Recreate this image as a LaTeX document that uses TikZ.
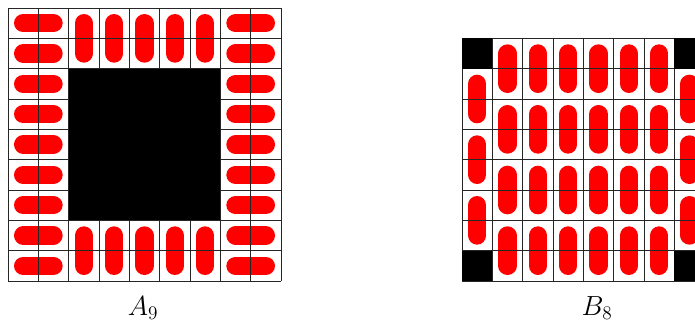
\documentclass[tikz,border=0pt]{standalone}
\usetikzlibrary{calc}
\begin{document}
\begin{tikzpicture}[x=0.75pt,y=-0.75pt,
  domino/.style={draw=red,line width=13.75pt,line cap=round},
  gridline/.style={draw=black!85,line width=0.65pt},
  hole/.style={fill=black},
  lbl/.style={font=\fontsize{20.5}{24}\selectfont,anchor=base,inner sep=0pt}]
\useasboundingbox (0,0) rectangle (695,322);
\clip (0,0) rectangle (695,322);
% ---------- A_9 ----------
\begin{scope}[shift={(8,8)},x=22.75pt,y=-22.75pt]
  \foreach \r in {0,...,8}{
    \draw[domino] (0.5,\r+0.5) -- (1.5,\r+0.5);
    \draw[domino] (7.5,\r+0.5) -- (8.5,\r+0.5);
  }
  \foreach \c in {2,...,6}{
    \draw[domino] (\c+0.5,0.5) -- (\c+0.5,1.5);
    \draw[domino] (\c+0.5,7.5) -- (\c+0.5,8.5);
  }
  \foreach \i in {0,...,9}{
    \draw[gridline] (\i,0) -- (\i,9);
    \draw[gridline] (0,\i) -- (9,\i);
  }
  \fill[hole] (2,2) rectangle (7,7);
\end{scope}
% ---------- B_8 ----------
\begin{scope}[shift={(462,38.33)},x=22.75pt,y=-22.75pt]
  \foreach \c in {0,7}{
    \foreach \r in {1,3,5}{
      \draw[domino] (\c+0.5,\r+0.5) -- (\c+0.5,\r+1.5);
    }
  }
  \foreach \c in {1,...,6}{
    \foreach \r in {0,2,4,6}{
      \draw[domino] (\c+0.5,\r+0.5) -- (\c+0.5,\r+1.5);
    }
  }
  \foreach \i in {0,...,8}{
    \draw[gridline] (\i,0) -- (\i,8);
    \draw[gridline] (0,\i) -- (8,\i);
  }
  \fill[hole] (0,0) rectangle (1,1);
  \fill[hole] (7,0) rectangle (8,1);
  \fill[hole] (0,7) rectangle (1,8);
  \fill[hole] (7,7) rectangle (8,8);
\end{scope}
\node[lbl] (labA) at (143,315) {$A_9$};
\node[lbl] (labB) at (597,315) {$B_8$};
\end{tikzpicture}
\end{document}
